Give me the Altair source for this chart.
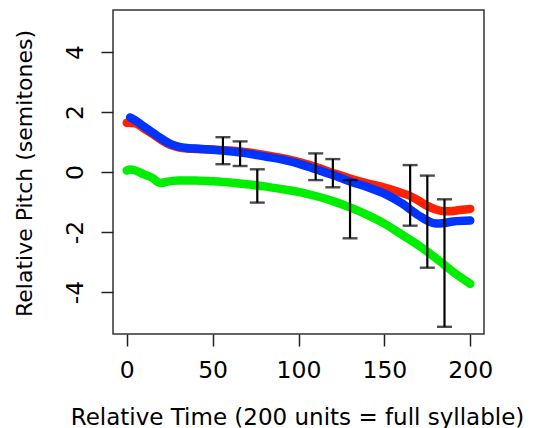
import altair as alt
import pandas as pd

# Red series
red_t = [0, 5, 10, 15, 20, 25, 30, 35, 40, 50, 60, 70, 80, 90, 100, 110, 120, 130, 140, 150, 160, 165, 170, 175, 180, 185, 190, 195, 200]
red_v = [1.64, 1.62, 1.45, 1.27, 1.07, 0.91, 0.82, 0.78, 0.77, 0.75, 0.72, 0.66, 0.57, 0.47, 0.34, 0.17, -0.03, -0.22, -0.38, -0.52, -0.70, -0.80, -0.96, -1.13, -1.25, -1.31, -1.30, -1.26, -1.23]

# Blue series
blue_t = [2, 5, 10, 15, 20, 25, 30, 35, 40, 50, 60, 70, 80, 90, 100, 110, 120, 130, 140, 150, 160, 170, 175, 180, 185, 190, 200]
blue_v = [1.82, 1.72, 1.52, 1.32, 1.12, 0.95, 0.85, 0.80, 0.78, 0.74, 0.69, 0.62, 0.52, 0.42, 0.28, 0.09, -0.10, -0.32, -0.50, -0.72, -1.04, -1.45, -1.62, -1.72, -1.70, -1.65, -1.62]

# Green series
green_t = [0, 2, 5, 10, 15, 18, 20, 23, 30, 40, 50, 60, 70, 80, 90, 100, 110, 120, 130, 140, 150, 160, 170, 180, 190, 200]
green_v = [0.05, 0.08, 0.05, -0.08, -0.20, -0.33, -0.37, -0.33, -0.28, -0.28, -0.31, -0.35, -0.41, -0.48, -0.57, -0.66, -0.80, -0.97, -1.18, -1.43, -1.72, -2.08, -2.45, -2.87, -3.33, -3.73]

# Error bars
err_t = [56, 66, 76, 110, 120, 130, 165, 175, 185]
err_lo = [0.26, 0.20, -1.02, -0.27, -0.51, -2.21, -1.79, -3.19, -5.16]
err_hi = [1.16, 1.02, 0.09, 0.62, 0.43, -0.27, 0.23, -0.12, -0.91]

x_ticks = [0, 50, 100, 150, 200]
y_ticks = [-4, -2, 0, 2, 4]

FONT = "DejaVu Sans"

xscale = alt.Scale(domain=[-8, 208], nice=False, zero=False)
yscale = alt.Scale(domain=[-5.4, 5.4], nice=False, zero=False)

xaxis = alt.Axis(
    values=x_ticks, title="Relative Time (200 units = full syllable)",
    labelExpr="'' + datum.value",
    labelFont=FONT, labelFontSize=23.5, labelColor="black", labelPadding=12,
    labelBaseline="top", labelFlush=False, labelOverlap=False,
    titleFont=FONT, titleFontSize=23, titleFontWeight="normal", titleColor="black",
    titleAlign="center", titleBaseline="alphabetic", titleX=184, titleY=90,
    tickSize=12, tickWidth=1.5, tickColor="#222", domain=False, grid=False,
)
yaxis = alt.Axis(
    values=y_ticks, title="Relative Pitch (semitones)",
    labelExpr="'' + datum.value",
    labelFont=FONT, labelFontSize=23.5, labelColor="black", labelPadding=18.5,
    labelAngle=270, labelAlign="center", labelBaseline="alphabetic",
    labelFlush=False, labelOverlap=False,
    titleFont=FONT, titleFontSize=22, titleFontWeight="normal", titleColor="black",
    titleAngle=270, titleAlign="center", titleBaseline="alphabetic",
    titleX=-82, titleY=163,
    tickSize=12, tickWidth=1.5, tickColor="#222", domain=False, grid=False,
)

def X(field):
    return alt.X(field, type="quantitative", scale=xscale, axis=xaxis)

def Y(field):
    return alt.Y(field, type="quantitative", scale=yscale, axis=yaxis)

def line_layer(ts, vs, color):
    df = pd.DataFrame({"t": ts, "v": vs})
    return alt.Chart(df).mark_line(
        color=color, strokeWidth=8.5, strokeCap="round", strokeJoin="round",
        interpolate="monotone",
    ).encode(x=X("t"), y=Y("v"))

red = line_layer(red_t, red_v, "#ff2000")
green = line_layer(green_t, green_v, "#00ee00")
blue = line_layer(blue_t, blue_v, "#0033ff")

err_df = pd.DataFrame({"t": err_t, "lo": err_lo, "hi": err_hi})
err_rule = alt.Chart(err_df).mark_rule(color="black", strokeWidth=2.2).encode(
    x=X("t"), y=Y("lo"), y2="hi:Q",
)
cap_lo = alt.Chart(err_df).mark_tick(color="black", thickness=2.4, size=15, orient="horizontal").encode(
    x=X("t"), y=Y("lo"),
)
cap_hi = alt.Chart(err_df).mark_tick(color="black", thickness=2.4, size=15, orient="horizontal").encode(
    x=X("t"), y=Y("hi"),
)

chart = alt.layer(red, green, blue, err_rule, cap_lo, cap_hi).properties(
    width=371, height=324,
    autosize=alt.AutoSizeParams(type="none"),
    padding={"left": 105, "top": 2, "right": 43, "bottom": 94},
).configure(
    background="white",
    view=alt.ViewConfig(stroke="#333", strokeWidth=1.5),
)

chart.save("out.html", embed_options={"renderer": "svg", "actions": False})
